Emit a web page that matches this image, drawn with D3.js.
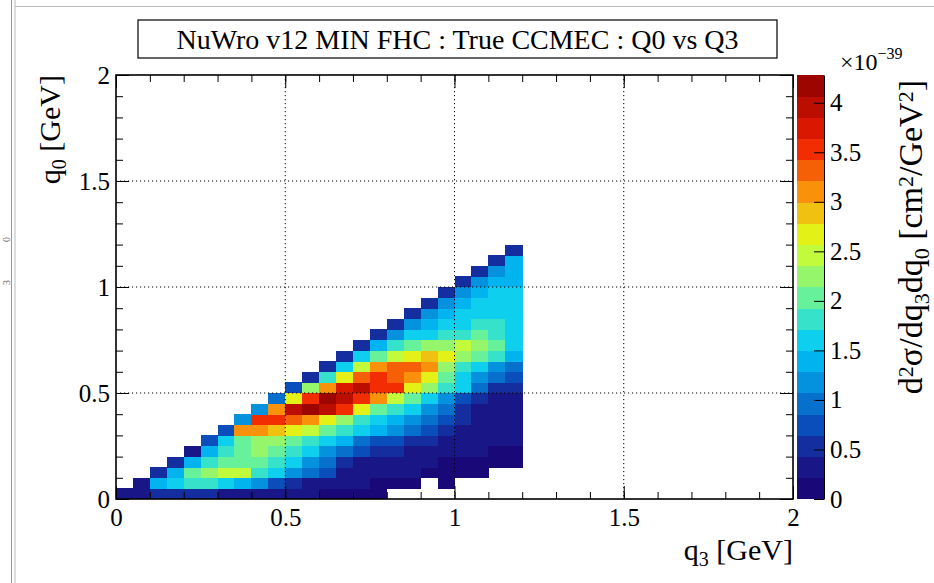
<!DOCTYPE html>
<html>
<head>
<meta charset="utf-8">
<script src="https://cdn.jsdelivr.net/npm/d3@7"></script>
<style>
  body { margin: 0; background: #fff; }
  text { font-family: "Liberation Serif", "Times New Roman", serif; fill: #000; }
</style>
</head>
<body>
<svg id="chart" width="934" height="583"></svg>
<script>
// bin edges (GeV)
const q3Edges = [0,0.05,0.1,0.15,0.2,0.25,0.3,0.35,0.4,0.45,0.5,0.55,0.6,0.65,0.7,0.75,0.8,0.85,0.9,0.95,1,1.05,1.1,1.15,1.2]
const q0Edges = [0,0.05,0.1,0.15,0.2,0.25,0.3,0.35,0.4,0.45,0.5,0.55,0.6,0.65,0.7,0.75,0.8,0.85,0.9,0.95,1,1.05,1.1,1.15,1.2]
const axisTicks = [0, 0.5, 1, 1.5, 2]
const zMax = 4.28   // x10^-39
const nCont = 20

const _ = null
// one row per q0 bin (bottom first), one value per q3 bin, x10^-39 cm2/GeV2
const zRows = [
  [0.3,0.3,0.45,0.5,0.5,0.45,0.4,0.35,0.3,0.3,0.25,0.25,0.2,0.2,0.2,0.15,_,_,_,_,_,_,_,_],
  [_,0.3,1.3,1.7,1.9,1.8,1.6,1.3,1.1,0.8,0.5,0.35,0.3,0.25,0.25,0.2,0.2,0.2,_,0.15,_,_,_,_],
  [_,_,0.55,1.4,2.1,2.3,2.5,2.4,1.85,1.5,1.2,0.9,0.65,0.4,0.3,0.3,0.25,0.25,0.2,0.2,0.2,0.15,_,_],
  [_,_,_,0.6,1.4,1.9,2.0,2.1,2.1,1.85,1.5,1.2,0.9,0.6,0.4,0.3,0.3,0.25,0.25,0.2,0.2,0.2,0.2,0.15],
  [_,_,_,_,0.4,1.4,1.9,2.0,2.3,2.1,1.8,1.5,1.2,0.9,0.65,0.55,0.5,0.35,0.3,0.3,0.25,0.25,0.2,0.2],
  [_,_,_,_,_,0.8,1.6,2.1,2.3,2.3,2.0,1.9,1.6,1.3,1.0,0.8,0.8,0.6,0.5,0.35,0.3,0.3,0.25,0.25],
  [_,_,_,_,_,_,0.8,3.0,3.0,2.8,2.6,2.4,2.0,1.8,1.5,1.45,1.2,0.9,0.65,0.6,0.4,0.35,0.3,0.3],
  [_,_,_,_,_,_,_,1.2,3.5,3.6,3.4,3.0,2.6,2.2,1.9,1.6,1.45,1.2,0.9,0.8,0.6,0.4,0.35,0.3],
  [_,_,_,_,_,_,_,_,1.1,3.1,4.0,4.25,3.9,3.5,2.6,2.1,1.8,1.5,1.2,0.9,0.6,0.4,0.35,0.35],
  [_,_,_,_,_,_,_,_,_,0.9,2.6,3.6,4.1,4.0,3.6,3.1,2.4,2.0,1.5,1.2,0.8,0.6,0.4,0.35],
  [_,_,_,_,_,_,_,_,_,_,0.75,2.3,3.2,3.7,3.9,3.6,3.5,2.7,2.3,1.8,1.5,0.9,0.6,0.45],
  [_,_,_,_,_,_,_,_,_,_,_,0.55,1.9,2.6,3.4,3.6,3.4,3.1,2.6,2.0,1.5,1.2,0.9,0.7],
  [_,_,_,_,_,_,_,_,_,_,_,_,0.5,1.5,2.4,3.1,3.3,3.3,3.0,2.3,1.8,1.5,1.2,0.9],
  [_,_,_,_,_,_,_,_,_,_,_,_,_,0.5,1.5,2.0,2.4,2.6,2.8,2.6,2.3,2.1,1.8,1.3],
  [_,_,_,_,_,_,_,_,_,_,_,_,_,_,0.5,1.3,1.8,2.1,2.3,2.3,2.4,2.3,2.1,1.6],
  [_,_,_,_,_,_,_,_,_,_,_,_,_,_,_,0.45,1.2,1.5,1.7,1.9,1.9,2.0,1.9,1.7],
  [_,_,_,_,_,_,_,_,_,_,_,_,_,_,_,_,0.45,1.2,1.45,1.6,1.7,1.75,1.75,1.65],
  [_,_,_,_,_,_,_,_,_,_,_,_,_,_,_,_,_,0.45,1.2,1.45,1.55,1.65,1.65,1.6],
  [_,_,_,_,_,_,_,_,_,_,_,_,_,_,_,_,_,_,0.45,1.2,1.45,1.5,1.55,1.55],
  [_,_,_,_,_,_,_,_,_,_,_,_,_,_,_,_,_,_,_,0.45,1.2,1.4,1.5,1.5],
  [_,_,_,_,_,_,_,_,_,_,_,_,_,_,_,_,_,_,_,_,0.45,1.2,1.4,1.45],
  [_,_,_,_,_,_,_,_,_,_,_,_,_,_,_,_,_,_,_,_,_,0.45,1.25,1.4],
  [_,_,_,_,_,_,_,_,_,_,_,_,_,_,_,_,_,_,_,_,_,_,0.45,1.3],
  [_,_,_,_,_,_,_,_,_,_,_,_,_,_,_,_,_,_,_,_,_,_,_,0.45]
]

// palette: [fraction, r, g, b]
const palStops = [
  [0.00, 25, 0, 110],
  [0.10, 25, 30, 145],
  [0.17, 10, 75, 185],
  [0.34, 0, 190, 245],
  [0.39, 20, 215, 235],
  [0.47, 100, 240, 160],
  [0.61, 225, 255, 25],
  [0.72, 250, 150, 10],
  [0.84, 240, 30, 0],
  [1.00, 140, 0, 0]
]

const palette = f => {
    let k = 1
    while(k < palStops.length-1 && f > palStops[k][0]) k++
    const a = palStops[k-1], b = palStops[k]
    const t = Math.max(0, Math.min(1, (f - a[0])/(b[0]-a[0])))
    const c = n => Math.round(a[n] + t*(b[n]-a[n]))
    return `rgb(${c(1)},${c(2)},${c(3)})`
}
const bandColor = b => palette((b+0.5)/nCont)
const cellColor = v => bandColor(Math.min(nCont-1, Math.floor(v/zMax*nCont)))

const svg = d3.select('#chart')
const x = d3.scaleLinear().domain([0,2]).range([116,793])
const y = d3.scaleLinear().domain([0,2]).range([499,75])
const zScale = d3.scaleLinear().domain([0,zMax]).range([499,75])

// page edge left over from the screenshot
svg.append('line').attr('x1',11.5).attr('x2',11.5).attr('y1',0).attr('y2',583).attr('stroke','#999')
svg.append('line').attr('x1',15).attr('x2',15).attr('y1',0).attr('y2',583).attr('stroke','#bbb')
svg.append('line').attr('x1',15).attr('x2',934).attr('y1',6.5).attr('y2',6.5).attr('stroke','#bbb')
svg.append('text').attr('transform','translate(9.5,242) rotate(-90)').style('font-size','10px').style('fill','#666').text('0')
svg.append('text').attr('transform','translate(9.5,285) rotate(-90)').style('font-size','10px').style('fill','#666').text('3')

// cells
const cells = []
zRows.forEach((row,i)=>row.forEach((v,j)=>{ if(v !== null) cells.push({i,j,v}) }))
svg.append('g').selectAll('rect').data(cells).join('rect')
    .attr('x', d=>x(q3Edges[d.j]))
    .attr('y', d=>y(q0Edges[d.i+1]))
    .attr('width', d=>x(q3Edges[d.j+1])-x(q3Edges[d.j])+0.4)
    .attr('height', d=>y(q0Edges[d.i])-y(q0Edges[d.i+1])+0.4)
    .attr('fill', d=>cellColor(d.v))
    .attr('shape-rendering','crispEdges')

// dotted grid
const gridVals = axisTicks.slice(1,-1)
const grid = svg.append('g').attr('stroke','#000').attr('stroke-width',1).attr('stroke-dasharray','1.2,2.8')
grid.selectAll('.gx').data(gridVals).join('line').attr('class','gx')
    .attr('x1',d=>x(d)).attr('x2',d=>x(d)).attr('y1',75).attr('y2',499)
grid.selectAll('.gy').data(gridVals).join('line').attr('class','gy')
    .attr('y1',d=>y(d)).attr('y2',d=>y(d)).attr('x1',116).attr('x2',793)

// axes, ticks inside on all four sides
const fmt = d3.format('~g')
const addAxis = (axis, tr) => {
    const g = svg.append('g').attr('transform', tr).call(axis)
    g.select('.domain').remove()
    g.selectAll('line').attr('stroke','#000')
    g.selectAll('text').style('font-size','25px').style('font-family','"Liberation Serif", serif')
    return g
}
addAxis(d3.axisBottom(x).tickValues(x.ticks(20)).tickSizeInner(-7).tickSizeOuter(0).tickFormat(''), 'translate(0,499)')
addAxis(d3.axisBottom(x).tickValues(axisTicks).tickSizeInner(-13).tickSizeOuter(0).tickPadding(9).tickFormat(fmt), 'translate(0,499)')
addAxis(d3.axisTop(x).tickValues(x.ticks(20)).tickSizeInner(-7).tickSizeOuter(0).tickFormat(''), 'translate(0,75)')
addAxis(d3.axisTop(x).tickValues(axisTicks).tickSizeInner(-13).tickSizeOuter(0).tickFormat(''), 'translate(0,75)')
addAxis(d3.axisLeft(y).tickValues(y.ticks(20)).tickSizeInner(-7).tickSizeOuter(0).tickFormat(''), 'translate(116,0)')
addAxis(d3.axisLeft(y).tickValues(axisTicks).tickSizeInner(-13).tickSizeOuter(0).tickPadding(6).tickFormat(fmt), 'translate(116,0)')
addAxis(d3.axisRight(y).tickValues(y.ticks(20)).tickSizeInner(-7).tickSizeOuter(0).tickFormat(''), 'translate(793,0)')
addAxis(d3.axisRight(y).tickValues(axisTicks).tickSizeInner(-13).tickSizeOuter(0).tickFormat(''), 'translate(793,0)')

svg.append('rect').attr('x',116).attr('y',75).attr('width',677).attr('height',424)
    .attr('fill','none').attr('stroke','#000').attr('stroke-width',1.6)

// axis titles
const xTitle = svg.append('text').attr('x',793).attr('y',560).attr('text-anchor','end').style('font-size','30px')
xTitle.append('tspan').text('q')
xTitle.append('tspan').attr('baseline-shift','-30%').style('font-size','20px').text('3')
xTitle.append('tspan').text(' [GeV]')

const yTitle = svg.append('text').attr('transform','translate(60,75) rotate(-90)').attr('text-anchor','end').style('font-size','30px')
yTitle.append('tspan').text('q')
yTitle.append('tspan').attr('baseline-shift','-30%').style('font-size','20px').text('0')
yTitle.append('tspan').text(' [GeV]')

// palette
const bands = d3.range(nCont)
svg.append('g').selectAll('rect').data(bands).join('rect')
    .attr('x',797).attr('width',27)
    .attr('y', b=>zScale((b+1)*zMax/nCont))
    .attr('height', b=>zScale(b*zMax/nCont)-zScale((b+1)*zMax/nCont)+0.4)
    .attr('fill', b=>bandColor(b))
    .attr('shape-rendering','crispEdges')
const zAxis = svg.append('g').attr('transform','translate(824,0)')
    .call(d3.axisRight(zScale).ticks(10).tickSizeInner(-10).tickSizeOuter(0).tickPadding(6).tickFormat(fmt))
zAxis.select('.domain').attr('stroke','#000')
zAxis.selectAll('line').attr('stroke','#000')
zAxis.selectAll('text').style('font-size','25px')

const expo = svg.append('text').attr('x',840).attr('y',70).style('font-size','24px')
expo.append('tspan').text('\u00d710')
expo.append('tspan').attr('dy',-11).style('font-size','16px').text('\u221239')

const zTitle = svg.append('text').attr('transform','translate(922,80) rotate(-90)').attr('text-anchor','end').style('font-size','34px')
const zParts = [['d',0],['2',1],['\u03c3/dq',0],['3',-1],['dq',0],['0',-1],[' [cm',0],['2',1],['/GeV',0],['2',1],[']',0]]
zParts.forEach(([t,s])=>{
    const ts = zTitle.append('tspan').text(t)
    if(s !== 0) ts.attr('baseline-shift', s > 0 ? '40%' : '-30%').style('font-size','22px')
})

// title box
svg.append('rect').attr('x',138).attr('y',20).attr('width',639).attr('height',38)
    .attr('fill','#fff').attr('stroke','#000').attr('stroke-width',1.2)
svg.append('text').attr('x',457.5).attr('y',49).attr('text-anchor','middle').style('font-size','28px')
    .text('NuWro v12 MIN FHC : True CCMEC : Q0 vs Q3')
</script>
</body>
</html>
